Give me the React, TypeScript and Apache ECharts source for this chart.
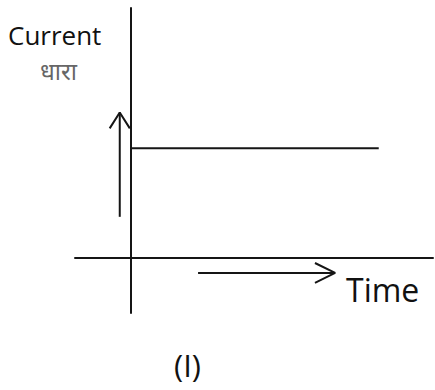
import React, { useEffect, useRef } from "react";
import * as echarts from "echarts";

// Schematic units: time origin 0, current origin 0
const timeRange = [-1, 5.4];
const currentRange = [-1, 4.55];
const currentLevel = [[0, 2], [4.43, 2]];
const currentArrowShaft = [[-0.2, 0.75], [-0.2, 2.65]];
const currentArrowHead = [[-0.38, 2.36], [-0.2, 2.65], [-0.02, 2.36]];
const timeArrowShaft = [[1.2, -0.27], [3.65, -0.27]];
const timeArrowHead = [[3.29, -0.09], [3.65, -0.27], [3.29, -0.45]];
const labels = { yTitle: "Current", yTitleHindi: "धारा", xTitle: "Time", caption: "(I)" };

const INK = "#151515";
const FONT = "'Open Sans', 'Noto Sans', sans-serif";

function lineSeries(data: number[][], width = 2) {
  return {
    type: "line",
    data,
    showSymbol: false,
    symbol: "none",
    lineStyle: { color: INK, width },
    silent: true,
  };
}

export default function App() {
  const ref = useRef<HTMLDivElement>(null);
  useEffect(() => {
    if (!ref.current) return;
    const chart = echarts.init(ref.current, undefined, { renderer: "svg" });
    chart.setOption({
      animation: false,
      backgroundColor: "#ffffff",
      grid: { left: 75, right: 2, top: 8, bottom: 77 },
      xAxis: {
        type: "value",
        min: timeRange[0],
        max: timeRange[1],
        axisLine: { show: true, onZero: true, lineStyle: { color: INK, width: 2 } },
        axisTick: { show: false },
        axisLabel: { show: false },
        splitLine: { show: false },
      },
      yAxis: {
        type: "value",
        min: currentRange[0],
        max: currentRange[1],
        axisLine: { show: true, onZero: true, lineStyle: { color: INK, width: 2 } },
        axisTick: { show: false },
        axisLabel: { show: false },
        splitLine: { show: false },
      },
      series: [
        lineSeries(currentLevel),
        lineSeries(currentArrowShaft),
        lineSeries(currentArrowHead),
        lineSeries(timeArrowShaft),
        lineSeries(timeArrowHead),
      ],
      graphic: [
        {
          type: "text",
          left: 8,
          top: 21,
          style: { text: labels.yTitle, font: `26px ${FONT}`, lineHeight: 28, fill: "#111" },
        },
        {
          type: "text",
          left: 40,
          top: 58,
          style: { text: labels.yTitleHindi, font: `24px ${FONT}`, lineHeight: 24, fill: "#666" },
        },
        {
          type: "text",
          left: 346,
          top: 273,
          style: { text: labels.xTitle, font: `32px ${FONT}`, fill: "#111" },
        },
        {
          type: "text",
          left: 174,
          top: 349,
          style: { text: labels.caption, font: `31px ${FONT}`, fill: "#111" },
        },
      ],
    });
    return () => chart.dispose();
  }, []);
  return (
    <div
      ref={ref}
      style={{ position: "fixed", left: 0, top: 0, width: 435, height: 390 }}
    />
  );
}
